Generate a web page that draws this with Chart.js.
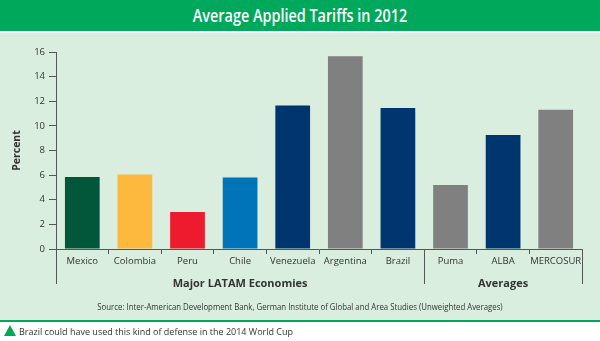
<!DOCTYPE html>
<html>
<head>
<meta charset="utf-8">
<script src="https://cdn.jsdelivr.net/npm/chart.js@4/dist/chart.umd.min.js"></script>
<style>
  html, body { margin: 0; padding: 0; }
  body { width: 600px; height: 341px; position: relative; background: #fff; overflow: hidden; font-family: 'Open Sans', sans-serif; }
  #header { position: absolute; left: 0; top: 0; width: 600px; height: 31px; background: #00a85b; }
  #header h1 { margin: 0; font-size: 18px; font-weight: 600; color: #fff; line-height: 31px; text-align: center; transform: scaleX(0.8); }
  #panel { position: absolute; left: 0; top: 33px; width: 600px; height: 287px; background: #d9eedf; }
  #chartBox { position: absolute; left: 0; top: 0; width: 600px; height: 287px; }
  #source { position: absolute; left: 0; top: 268px; width: 600px; text-align: center; font-size: 8.5px; color: #333; transform: scaleX(0.92); }
  #rule { position: absolute; left: 0; top: 320px; width: 600px; height: 2px; background: #00a85b; }
  #note { position: absolute; left: 4px; top: 325px; font-size: 9px; color: #333; line-height: 13px; }
  #note .tri { display: inline-block; width: 0; height: 0; border-left: 6px solid transparent; border-right: 6px solid transparent; border-bottom: 11px solid #00a85b; vertical-align: -1px; margin-right: 3px; }
</style>
</head>
<body>
<div id="header"><h1>Average Applied Tariffs in 2012</h1></div>
<div id="panel">
  <div id="chartBox"><canvas id="tariffChart"></canvas></div>
  <div id="source">Source: Inter-American Development Bank, German Institute of Global and Area Studies (Unweighted Averages)</div>
</div>
<div id="rule"></div>
<div id="note"><span class="tri"></span>Brazil could have used this kind of defense in the 2014 World Cup</div>

<script>
const categories = ['Mexico', 'Colombia', 'Peru', 'Chile', 'Venezuela', 'Argentina', 'Brazil', 'Puma', 'ALBA', 'MERCOSUR'];
const tariffs = [5.85, 6.05, 3.0, 5.8, 11.65, 15.65, 11.45, 5.2, 9.25, 11.3];
const barColors = ['#00573a', '#fdb93e', '#ec1c2e', '#0074b8', '#003670', '#808080', '#003670', '#808080', '#003670', '#808080'];
const groupNames = ['Major LATAM Economies', 'Averages'];
const groupFirst = [0, 7];
const groupLast = [6, 9];
const yMin = 0;
const yMax = 16;
const yStep = 2;

const axisColor = '#555';
const textColor = '#333';

// long separators under the x axis plus the group captions
const groupAxis = {
    id: 'groupAxis',
    afterDraw(chart) {
        const ctx = chart.ctx;
        const x = chart.scales.x;
        const bottom = x.top + 35;
        const half = (x.getPixelForValue(1) - x.getPixelForValue(0)) / 2;
        ctx.save();
        ctx.strokeStyle = axisColor;
        ctx.lineWidth = 1;
        const edges = [x.left];
        groupLast.forEach(i => edges.push(x.getPixelForValue(i) + half));
        ctx.beginPath();
        edges.forEach(px => {
            const p = Math.round(px) + 0.5;
            ctx.moveTo(p, x.top);
            ctx.lineTo(p, bottom);
        });
        ctx.stroke();

        ctx.fillStyle = textColor;
        ctx.font = "bold 11px 'Open Sans', sans-serif";
        ctx.textAlign = 'center';
        ctx.textBaseline = 'middle';
        groupNames.forEach((name, g) => {
            const cx = (x.getPixelForValue(groupFirst[g]) + x.getPixelForValue(groupLast[g])) / 2;
            ctx.fillText(name, cx, bottom);
        });
        ctx.restore();
    }
};

document.addEventListener('DOMContentLoaded', function() {
    Chart.defaults.font.family = "'Open Sans', sans-serif";
    Chart.defaults.color = textColor;

    const ctx = document.getElementById('tariffChart').getContext('2d');
    new Chart(ctx, {
        type: 'bar',
        data: {
            labels: categories,
            datasets: [{
                label: 'Percent',
                data: tariffs,
                backgroundColor: barColors,
                barPercentage: 0.66,
                categoryPercentage: 1
            }]
        },
        options: {
            responsive: true,
            maintainAspectRatio: false,
            animation: false,
            layout: {
                padding: { left: 0, right: 18, top: 19, bottom: 0 }
            },
            plugins: {
                legend: { display: false },
                tooltip: { enabled: false }
            },
            scales: {
                x: {
                    afterFit: s => { s.height = 71; },
                    grid: {
                        offset: true,
                        drawOnChartArea: false,
                        drawTicks: true,
                        tickLength: 5,
                        color: axisColor
                    },
                    border: { display: true, color: axisColor },
                    ticks: {
                        padding: 2,
                        font: { size: 9.5 },
                        color: textColor,
                        maxRotation: 0,
                        autoSkip: false
                    }
                },
                y: {
                    min: yMin,
                    max: yMax,
                    afterFit: s => { s.width = 56; },
                    grid: {
                        drawOnChartArea: false,
                        drawTicks: true,
                        tickLength: 7,
                        color: axisColor
                    },
                    border: { display: true, color: axisColor },
                    ticks: {
                        stepSize: yStep,
                        padding: 4,
                        font: { size: 9.5 },
                        color: textColor
                    },
                    title: {
                        display: true,
                        text: 'Percent',
                        color: textColor,
                        font: { size: 10.5, weight: 'bold' },
                        padding: { top: 11, bottom: 0 }
                    }
                }
            }
        },
        plugins: [groupAxis]
    });
});
</script>
</body>
</html>
